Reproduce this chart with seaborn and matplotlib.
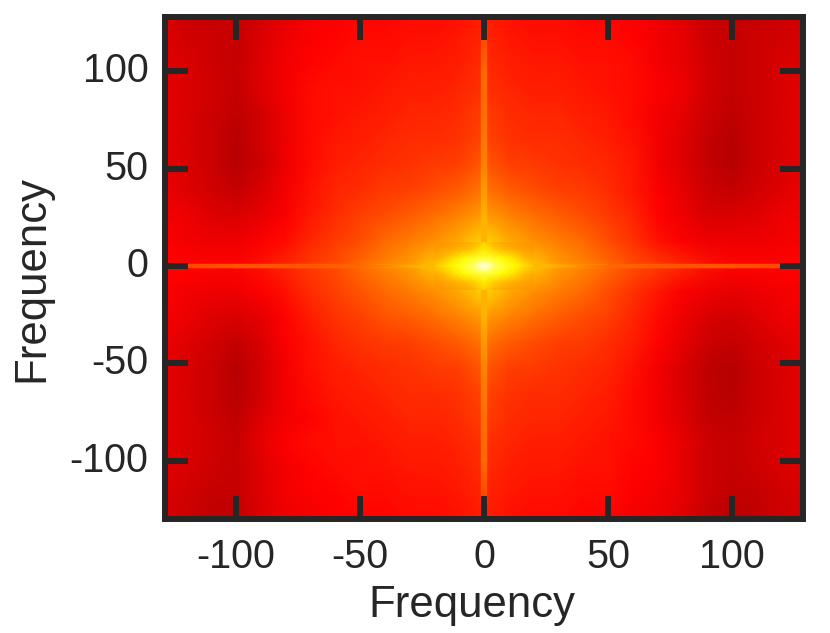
import numpy as np
import pandas as pd
import matplotlib
matplotlib.use('Agg')
import matplotlib.pyplot as plt
import seaborn as sns

# --- Values (hot colormap position, 0-1) -------------------------------------

x_freq = [-130, -120, -110, -100, -90, -80, -70, -60, -50, -40, -30, -20, -10, 0,
          10, 20, 30, 40, 50, 60, 70, 80, 90, 100, 110, 120, 130]
y_freq = [130, 117, 104, 91, 78, 65, 52, 39, 26, 13, 0,
          -13, -26, -39, -52, -65, -78, -91, -104, -117, -130]

levels = [
    [.31, .29, .28, .28, .30, .33, .35, .36, .37, .37, .38, .38, .39, .41, .39, .38, .38, .37, .37, .36, .34, .32, .29, .27, .28, .29, .30],
    [.32, .30, .29, .28, .31, .34, .36, .37, .38, .38, .39, .39, .40, .42, .40, .39, .39, .38, .38, .37, .35, .33, .29, .28, .29, .30, .31],
    [.32, .31, .29, .28, .32, .35, .37, .38, .39, .39, .40, .40, .41, .43, .41, .40, .40, .39, .39, .38, .35, .33, .30, .28, .29, .31, .32],
    [.33, .31, .30, .28, .32, .35, .38, .39, .39, .40, .41, .41, .42, .44, .42, .41, .41, .40, .39, .38, .36, .34, .30, .28, .29, .31, .33],
    [.33, .31, .29, .27, .30, .34, .38, .39, .40, .41, .42, .42, .43, .46, .43, .42, .42, .41, .40, .38, .35, .33, .29, .27, .29, .31, .33],
    [.33, .31, .29, .26, .30, .34, .38, .40, .41, .42, .43, .43, .44, .47, .44, .43, .43, .42, .41, .39, .35, .32, .28, .26, .29, .31, .33],
    [.33, .31, .29, .26, .29, .34, .38, .41, .42, .43, .44, .45, .46, .50, .46, .45, .44, .43, .42, .40, .35, .32, .28, .26, .29, .31, .33],
    [.34, .32, .30, .28, .31, .35, .39, .42, .43, .45, .46, .48, .50, .54, .50, .48, .46, .45, .43, .40, .36, .33, .29, .28, .30, .32, .34],
    [.35, .34, .32, .31, .33, .36, .40, .43, .46, .48, .50, .53, .56, .60, .56, .53, .50, .48, .45, .42, .37, .34, .31, .31, .32, .34, .35],
    [.36, .35, .34, .34, .36, .38, .42, .45, .48, .52, .55, .58, .62, .68, .62, .58, .55, .52, .48, .44, .39, .36, .34, .34, .34, .35, .36],
    [.37, .37, .37, .37, .39, .42, .45, .48, .52, .56, .60, .66, .74, .90, .74, .66, .60, .56, .52, .48, .45, .42, .39, .37, .37, .37, .37],
    [.36, .35, .34, .34, .36, .39, .43, .46, .49, .52, .55, .58, .62, .68, .62, .58, .55, .52, .48, .44, .40, .36, .34, .33, .34, .35, .36],
    [.35, .34, .32, .31, .33, .37, .41, .44, .46, .49, .50, .53, .56, .60, .56, .53, .50, .48, .46, .42, .38, .34, .31, .30, .32, .34, .35],
    [.34, .32, .30, .28, .31, .36, .39, .42, .44, .45, .46, .48, .50, .54, .50, .48, .46, .45, .43, .41, .37, .33, .29, .28, .30, .32, .34],
    [.33, .31, .29, .26, .30, .35, .39, .41, .42, .43, .44, .45, .46, .50, .46, .45, .44, .43, .42, .39, .35, .31, .27, .26, .29, .31, .33],
    [.33, .31, .29, .26, .30, .35, .38, .40, .41, .42, .43, .43, .44, .47, .44, .43, .43, .42, .41, .38, .35, .31, .27, .26, .29, .31, .33],
    [.33, .31, .29, .27, .32, .35, .37, .39, .40, .41, .42, .42, .43, .46, .43, .42, .42, .41, .40, .38, .35, .32, .28, .27, .29, .31, .33],
    [.33, .31, .30, .28, .33, .36, .38, .39, .39, .40, .41, .41, .42, .44, .42, .41, .41, .40, .39, .38, .36, .33, .29, .28, .30, .31, .33],
    [.32, .31, .29, .28, .32, .35, .37, .38, .39, .39, .40, .40, .41, .43, .41, .40, .40, .39, .39, .37, .36, .33, .29, .28, .29, .31, .32],
    [.31, .30, .28, .28, .32, .35, .36, .37, .38, .38, .39, .39, .40, .42, .40, .39, .39, .38, .38, .36, .35, .33, .29, .27, .28, .30, .31],
    [.30, .29, .27, .27, .31, .34, .35, .36, .37, .37, .38, .38, .39, .41, .39, .38, .38, .37, .37, .35, .34, .32, .28, .26, .27, .29, .30],
]

# narrow glow round the origin
glow_x = [-20, -16, -12, -8, -4, 0, 4, 8, 12, 16, 20]
glow_y = [12, 8, 4, 0, -4, -8, -12]
glow = [
    [.58, .59, .60, .61, .63, .68, .63, .61, .60, .59, .58],
    [.60, .61, .63, .65, .68, .72, .68, .65, .63, .61, .60],
    [.62, .65, .70, .74, .78, .80, .78, .74, .70, .65, .62],
    [.66, .70, .74, .79, .86, 1.0, .86, .79, .74, .70, .66],
    [.62, .65, .70, .74, .78, .80, .78, .74, .70, .65, .62],
    [.60, .61, .63, .65, .68, .72, .68, .65, .63, .61, .60],
    [.58, .59, .60, .61, .63, .68, .63, .61, .60, .59, .58],
]

# streaks along the two zero-frequency lines
streak_pos = [-122, -100, -75, -50, -25, 25, 50, 75, 100, 122]
h_streak = [.47, .49, .49, .52, .64, .64, .52, .49, .49, .47]
v_streak = [.46, .52, .53, .56, .63, .63, .56, .53, .52, .46]

tick_vals = [-100, -50, 0, 50, 100]
tick_labels = ['-100', '-50', '0', '50', '100']
ink = '#262626'


def col(f):
    return (np.asarray(f, dtype=float) - x_freq[0]) / 10.0


def row(f):
    return (y_freq[0] - np.asarray(f, dtype=float)) / 13.0


sns.set_theme(style='ticks')
plt.rcParams['font.family'] = ['Liberation Sans', 'DejaVu Sans']

fig = plt.figure(figsize=(8.3, 6.33), dpi=100)
ax = fig.add_axes([165 / 830, 1 - 519 / 633, (803 - 165) / 830, (519 - 17) / 633])

df = pd.DataFrame(levels, index=y_freq, columns=x_freq)
sns.heatmap(df, ax=ax, cmap='hot', vmin=0, vmax=1, cbar=False, shading='gouraud', rasterized=True)

# overlays use the heatmap's own colour scale
ax.pcolormesh(col(streak_pos), row([-0.9, 0.9]), np.array([h_streak, h_streak]), cmap='hot', vmin=0, vmax=1, shading='gouraud')
ax.pcolormesh(col([-1.1, 1.1]), row(streak_pos), np.array([v_streak, v_streak]).T, cmap='hot', vmin=0, vmax=1, shading='gouraud')
ax.pcolormesh(col(glow_x), row(glow_y), np.array(glow), cmap='hot', vmin=0, vmax=1, shading='gouraud')

ax.set_xlim(col(-128.6), col(128.6))
ax.set_ylim(row(-130), row(128))
ax.set_axisbelow(False)

ax.set_xticks(col(tick_vals))
ax.set_xticklabels(tick_labels, rotation=0)
ax.set_yticks(row(tick_vals))
ax.set_yticklabels(tick_labels, rotation=0, va='center')
ax.tick_params(axis='both', which='major', direction='in', length=16.5, width=4.3, color=ink,
               labelcolor=ink, labelsize=28.5, top=True, right=True, left=True, bottom=True)
ax.tick_params(axis='x', pad=14)
ax.tick_params(axis='y', pad=12)

for s in ax.spines.values():
    s.set_visible(True)
    s.set_linewidth(4.3)
    s.set_color(ink)

ax.set_xlabel('Frequency', fontsize=31.5, color=ink)
ax.set_ylabel('Frequency', fontsize=31.5, color=ink)
ax.xaxis.set_label_coords((472 - 165) / 638, (519 - 605) / 502 , transform=ax.transAxes)
ax.xaxis.label.set_va('center')
ax.yaxis.set_label_coords((32 - 165) / 638, (519 - 279) / 502, transform=ax.transAxes)
ax.yaxis.label.set_va('center')

fig.savefig('out.png', dpi=100)
